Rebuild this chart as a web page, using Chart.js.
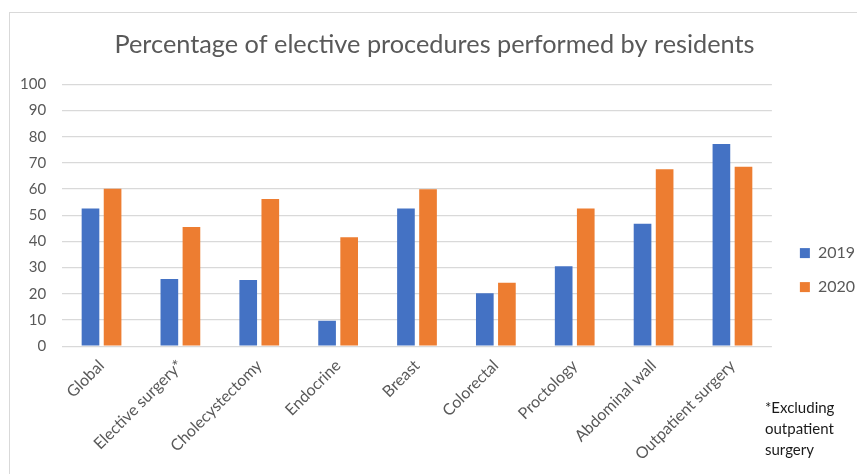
<!DOCTYPE html>
<html>
<head>
<meta charset="utf-8">
<script src="https://cdn.jsdelivr.net/npm/chart.js@4"></script>
<style>
  html, body { margin: 0; padding: 0; background: #fff; }
  #frame { position: absolute; left: 9px; top: 12px; width: 900px; height: 500px; border: 1px solid #d9d9d9; }
  #wrap { position: absolute; left: 0; top: 0; width: 857px; height: 474px; }
  #note { position: absolute; left: 765px; top: 397px; font-family: Lato, sans-serif; font-size: 15px; line-height: 21px; color: #1a1a1a; }
</style>
</head>
<body>
<div id="frame"></div>
<div id="wrap"><canvas id="myChart"></canvas></div>
<div id="note">*Excluding<br>outpatient<br>surgery</div>
<script>
var categories = ['Global', 'Elective surgery*', 'Cholecystectomy', 'Endocrine', 'Breast', 'Colorectal', 'Proctology', 'Abdominal wall', 'Outpatient surgery'];
var values2019 = [52.6, 25.7, 25.3, 9.7, 52.6, 20.2, 30.5, 46.8, 77.2];
var values2020 = [60.1, 45.5, 56.2, 41.6, 59.9, 24.2, 52.6, 67.6, 68.5];

document.addEventListener('DOMContentLoaded', function () {
    var ctx = document.getElementById('myChart').getContext('2d');
    var grey = '#595959';

    new Chart(ctx, {
        type: 'bar',
        data: {
            labels: categories,
            datasets: [{
                label: '2019',
                backgroundColor: '#4472C4',
                data: values2019,
                categoryPercentage: 0.56,
                barPercentage: 0.8
            }, {
                label: '2020',
                backgroundColor: '#ED7D31',
                data: values2020,
                categoryPercentage: 0.56,
                barPercentage: 0.8
            }]
        },
        options: {
            responsive: true,
            maintainAspectRatio: false,
            animation: false,
            layout: { padding: { left: 4, right: -8, top: 30, bottom: 8 } },
            scales: {
                x: {
                    grid: { display: false },
                    border: { display: false },
                    ticks: {
                        color: grey,
                        font: { family: 'Lato', size: 16 },
                        minRotation: 45,
                        maxRotation: 45,
                        padding: 2
                    }
                },
                y: {
                    min: 0,
                    max: 100,
                    grid: { color: '#d9d9d9', lineWidth: 1.3, drawTicks: false },
                    border: { display: false },
                    ticks: {
                        stepSize: 10,
                        color: grey,
                        padding: 16,
                        font: { family: 'Lato', size: 15 }
                    }
                },
                // empty spacer on the right, keeps a gap before the legend
                spacer: {
                    position: 'right',
                    display: true,
                    grid: { display: false },
                    border: { display: false },
                    ticks: { display: false },
                    afterFit: function (scale) { scale.width = 10; }
                }
            },
            plugins: {
                title: {
                    display: true,
                    text: 'Percentage of elective procedures performed by residents',
                    color: grey,
                    font: { family: 'Lato', size: 25.3, weight: 'normal' },
                    padding: { top: 0, bottom: 24 }
                },
                legend: {
                    position: 'right',
                    title: { display: true, text: ' ', font: { size: 1 }, padding: { top: 0, bottom: 43 } },
                    labels: {
                        color: grey,
                        boxWidth: 10,
                        boxHeight: 10,
                        padding: 18,
                        font: { family: 'Lato', size: 16 }
                    }
                },
                tooltip: { enabled: false }
            }
        }
    });
});
</script>
</body>
</html>
